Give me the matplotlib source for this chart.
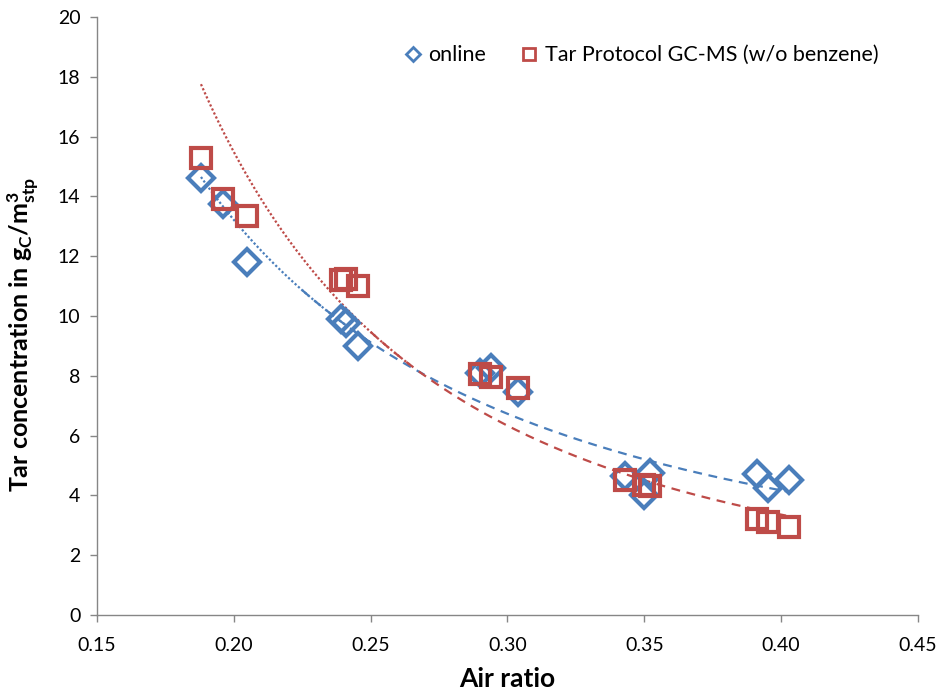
import numpy as np
import matplotlib
matplotlib.use("Agg")
import matplotlib.pyplot as plt

plt.rcParams['font.family'] = ['Lato', 'DejaVu Sans']
plt.rcParams['mathtext.fontset'] = 'custom'
plt.rcParams['mathtext.rm'] = 'Lato:bold'
plt.rcParams['mathtext.it'] = 'Lato:bold'
plt.rcParams['mathtext.bf'] = 'Lato:bold'

# Data
air_ratio = [0.188, 0.196, 0.205, 0.239, 0.241, 0.2455, 0.290, 0.294, 0.304,
             0.343, 0.350, 0.352, 0.391, 0.395, 0.403]
online = [14.6, 13.75, 11.8, 9.9, 9.75, 9.0, 8.1, 8.25, 7.45,
          4.65, 4.0, 4.75, 4.7, 4.25, 4.5]
gcms = [15.3, 13.9, 13.35, 11.2, 11.25, 11.0, 8.05, 7.95, 7.6,
        4.5, 4.35, 4.3, 3.2, 3.1, 2.95]

xticks = [0.15, 0.20, 0.25, 0.30, 0.35, 0.40, 0.45]
yticks = list(range(0, 21, 2))

blue = '#4A7EBB'
red = '#BE4B48'

fig = plt.figure(figsize=(9.36, 6.94), dpi=100)
ax = fig.add_axes([0.1036, 0.1138, 0.8772, 0.8617])

x = np.array(air_ratio)

def power_fit(xv, yv):
    b, a = np.polyfit(np.log(xv), np.log(yv), 1)
    return lambda t: np.exp(a) * t ** b

f_blue = power_fit(x, np.array(online))
f_red = power_fit(x, np.array(gcms))

xmin, xmax = x.min(), x.max()
# blue trend: dotted first part, dashed remainder
t1 = np.linspace(xmin, 0.25, 100)
t2 = np.linspace(0.225, xmax, 200)
ax.plot(t1, f_blue(t1), ls=(0, (1, 1)), color=blue, lw=1.6, zorder=2)
ax.plot(t2, f_blue(t2), ls=(0, (4, 3)), color=blue, lw=1.6, zorder=2)
# red trend
t3 = np.linspace(xmin, 0.265, 100)
t4 = np.linspace(0.25, xmax, 200)
ax.plot(t3, f_red(t3), ls=(0, (1, 1)), color=red, lw=1.6, zorder=2)
ax.plot(t4, f_red(t4), ls=(0, (4, 3)), color=red, lw=1.6, zorder=2)

ax.plot(air_ratio, online, ls='none', marker='D', ms=13, mfc='none',
        mec=blue, mew=3, zorder=3, label='online')
ax.plot(air_ratio, gcms, ls='none', marker='s', ms=15, mfc='none',
        mec=red, mew=3, zorder=4, label='Tar Protocol GC-MS (w/o benzene)')

ax.set_xlim(0.15, 0.45)
ax.set_ylim(0, 20)
ax.set_xticks(xticks)
ax.set_xticklabels([f'{v:.2f}' for v in xticks])
ax.set_yticks(yticks)
ax.tick_params(axis='both', direction='out', length=5, width=1, labelsize=14,
               color='#868686')
ax.tick_params(axis='x', pad=11)
ax.tick_params(axis='y', pad=7)
for s in ['top', 'right']:
    ax.spines[s].set_visible(False)
for s in ['left', 'bottom']:
    ax.spines[s].set_color('#868686')
    ax.spines[s].set_linewidth(1)

ax.set_xlabel('Air ratio', fontsize=19, fontweight='bold', labelpad=9)
ax.set_ylabel(r'Tar concentration in g$_\mathrm{C}$/m$^\mathrm{3}_\mathrm{stp}$',
              fontsize=18, fontweight='bold')
ax.yaxis.set_label_coords(-0.068, 0.47)

h1 = plt.Line2D([], [], ls='none', marker='D', ms=7, mfc='none', mec=blue, mew=2)
h2 = plt.Line2D([], [], ls='none', marker='s', ms=9, mfc='none', mec=red, mew=2)
ax.legend([h1, h2], ['online', 'Tar Protocol GC-MS (w/o benzene)'], ncol=2,
          frameon=False, fontsize=15.5, loc='upper right',
          bbox_to_anchor=(0.975, 0.985), handletextpad=0.2, columnspacing=1.5,
          handlelength=1.0)

fig.savefig('out.png', dpi=100)
